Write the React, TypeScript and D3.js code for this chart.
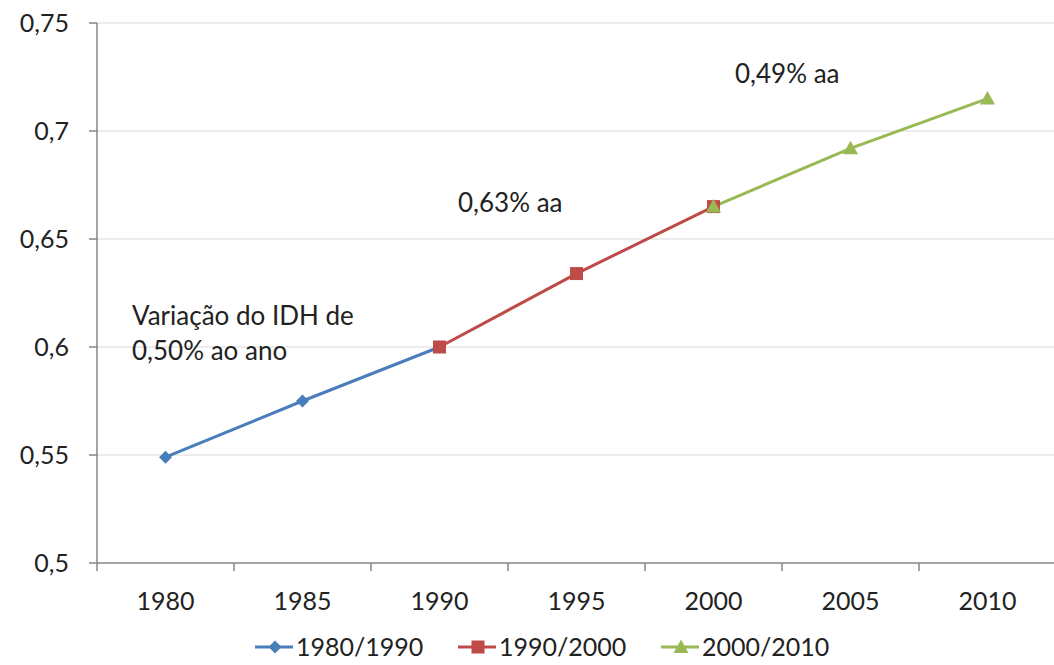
import React from "react";
import * as d3 from "d3";

const years = ["1980", "1985", "1990", "1995", "2000", "2005", "2010"];
const series1980 = [0.549, 0.575, 0.6, null, null, null, null];
const series1990 = [null, null, 0.6, 0.634, 0.665, null, null];
const series2000 = [null, null, null, null, 0.665, 0.692, 0.715];
const seriesNames = ["1980/1990", "1990/2000", "2000/2010"];
const seriesColors = ["#4A7EBB", "#BE4B48", "#98B954"];
const yTicks = [0.5, 0.55, 0.6, 0.65, 0.7, 0.75];

const W = 1054, H = 665;
const left = 97, right = 1056, top = 23, bottom = 563;
const FONT = "Lato, 'Open Sans', sans-serif";

function marker(kind: string, x: number, y: number, color: string, key: string) {
  if (kind === "diamond") {
    const s = 6.5;
    return <path key={key} d={`M${x},${y - s}L${x + s},${y}L${x},${y + s}L${x - s},${y}Z`} fill={color} />;
  }
  if (kind === "square") {
    const s = 6.5;
    return <rect key={key} x={x - s} y={y - s} width={2 * s} height={2 * s} fill={color} />;
  }
  const s = 7.5;
  return <path key={key} d={`M${x},${y - s}L${x + s},${y + s * 0.8}L${x - s},${y + s * 0.8}Z`} fill={color} />;
}

export default function App() {
  const x = d3.scaleBand<string>().domain(years).range([left, right]);
  const y = d3.scaleLinear().domain([0.5, 0.75]).range([bottom, top]);
  const fmt = (v: number) => String(+v.toFixed(2)).replace(".", ",");
  const all = [series1980, series1990, series2000];
  const kinds = ["diamond", "square", "triangle"];
  const cx = (i: number) => (x(years[i]) as number) + x.bandwidth() / 2;

  const line = d3
    .line<number | null>()
    .defined((d) => d !== null)
    .x((_, i) => cx(i))
    .y((d) => y(d as number));

  const legendX = [255, 458, 661];
  const legendY = 647;

  return (
    <svg width={W} height={H} style={{ position: "absolute", left: 0, top: 0, background: "#fff" }}>
      <rect x={0} y={0} width={W} height={H} fill="#fff" />
      {yTicks.filter((t) => t > 0.5).map((t) => (
        <line key={"g" + t} x1={left} x2={right} y1={y(t)} y2={y(t)} stroke="#d9d9d9" strokeWidth={1} />
      ))}
      <line x1={left} x2={left} y1={top} y2={bottom} stroke="#868686" strokeWidth={1.5} />
      <line x1={left} x2={right} y1={bottom} y2={bottom} stroke="#868686" strokeWidth={1.5} />
      {yTicks.map((t) => (
        <g key={"yt" + t}>
          <line x1={left - 8} x2={left} y1={y(t)} y2={y(t)} stroke="#868686" strokeWidth={1.5} />
          <text x={69} y={y(t)} dy="0.36em" textAnchor="end" fontFamily={FONT} fontSize={25} fill="#222">
            {fmt(t)}
          </text>
        </g>
      ))}
      {years.map((yr, i) => (
        <g key={"xt" + yr}>
          <line x1={x(yr) as number} x2={x(yr) as number} y1={bottom} y2={bottom + 8} stroke="#868686" strokeWidth={1.5} />
          <text x={cx(i)} y={610} textAnchor="middle" fontFamily={FONT} fontSize={25} fill="#222">
            {yr}
          </text>
        </g>
      ))}
      {all.map((s, si) => (
        <path key={"l" + si} d={line(s) || ""} fill="none" stroke={seriesColors[si]} strokeWidth={3} />
      ))}
      {all.map((s, si) =>
        s.map((v, i) => (v === null ? null : marker(kinds[si], cx(i), y(v), seriesColors[si], `m${si}-${i}`)))
      )}
      <text x={132} y={325} fontFamily={FONT} fontSize={26} fill="#222">Variação do IDH de</text>
      <text x={132} y={360} fontFamily={FONT} fontSize={26} fill="#222">0,50% ao ano</text>
      <text x={458} y={212} fontFamily={FONT} fontSize={26} fill="#222">0,63% aa</text>
      <text x={735} y={83} fontFamily={FONT} fontSize={26} fill="#222">0,49% aa</text>
      {seriesNames.map((n, si) => (
        <g key={"lg" + si}>
          <line x1={legendX[si]} x2={legendX[si] + 38} y1={legendY} y2={legendY} stroke={seriesColors[si]} strokeWidth={3} />
          {marker(kinds[si], legendX[si] + 20, legendY, seriesColors[si], "lm" + si)}
          <text x={legendX[si] + 41} y={legendY} dy="0.36em" fontFamily={FONT} fontSize={25} fill="#222">
            {n}
          </text>
        </g>
      ))}
    </svg>
  );
}
